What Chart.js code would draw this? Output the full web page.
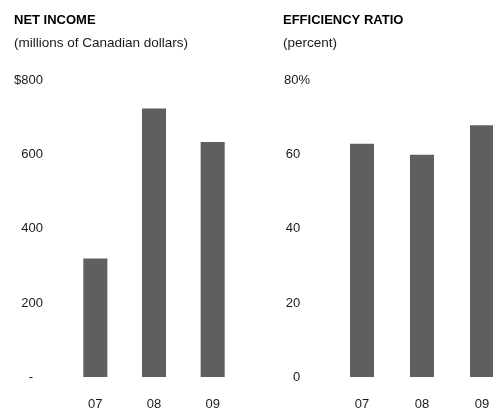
<!DOCTYPE html>
<html>
<head>
<meta charset="utf-8">
<script src="https://cdn.jsdelivr.net/npm/chart.js@4/dist/chart.umd.min.js"></script>
<style>
    html, body { margin: 0; padding: 0; background: #fff; overflow: hidden; }
    body { width: 493px; height: 410px; position: relative; }
    canvas { position: absolute; top: 0; }
    #income-chart { left: 0; }
    #ratio-chart { left: 250px; }
</style>
</head>
<body>
<canvas id="income-chart" width="250" height="413"></canvas>
<canvas id="ratio-chart" width="270" height="413"></canvas>
<script>
// Data
const years = ['07', '08', '09'];
const netIncome = [320, 725, 635];          // millions of Canadian dollars
const efficiencyRatio = [63, 60, 68];       // percent
const incomeTicks = { 0: '-\u2007\u2009', 800: '$800' };
const ratioTicks = { 80: '80%' };

const BAR_COLOR = '#5f5f5f';
const TEXT_COLOR = '#1a1a1a';

Chart.defaults.font.family = '"Liberation Sans", Arial, sans-serif';
Chart.defaults.font.size = 13;
Chart.defaults.color = TEXT_COLOR;

// Shared options for both small bar charts.
// afterFit pins the axis sizes so the plot area lands where the original has it.
function makeOptions(title, subtitle, yMax, step, tickLabel, padLeft, axisWidth, tickPad, barPct) {
    return {
        responsive: false,
        animation: false,
        layout: {
            padding: { left: padLeft, right: 8, top: 0, bottom: 0 }
        },
        plugins: {
            legend: { display: false },
            tooltip: { enabled: false },
            title: {
                display: true,
                text: title,
                align: 'start',
                color: '#000',
                font: { size: 13, weight: 'bold' },
                padding: { top: 13, bottom: 6 }
            },
            subtitle: {
                display: true,
                text: subtitle,
                align: 'start',
                color: TEXT_COLOR,
                font: { size: 13.5 },
                padding: { top: 1, bottom: 29 }
            }
        },
        datasets: {
            bar: {
                barPercentage: barPct,
                categoryPercentage: 1
            }
        },
        scales: {
            x: {
                grid: { display: false, drawTicks: false },
                border: { display: false },
                ticks: { padding: 20, font: { size: 13 } },
                afterFit: s => { s.height = 36; }
            },
            y: {
                min: 0,
                max: yMax,
                grid: { display: false, drawTicks: false },
                border: { display: false },
                ticks: {
                    stepSize: step,
                    padding: tickPad,
                    font: { size: 13 },
                    callback: tickLabel
                },
                afterFit: s => { s.width = axisWidth; }
            }
        }
    };
}

new Chart(document.getElementById('income-chart'), {
    type: 'bar',
    data: {
        labels: years,
        datasets: [{
            data: netIncome,
            backgroundColor: BAR_COLOR,
            borderWidth: 0
        }]
    },
    options: makeOptions(
        'NET INCOME',
        '(millions of Canadian dollars)',
        800, 200,
        v => incomeTicks[v] !== undefined ? incomeTicks[v] : String(v),
        14, 52, 23, 0.41
    )
});

new Chart(document.getElementById('ratio-chart'), {
    type: 'bar',
    data: {
        labels: years,
        datasets: [{
            data: efficiencyRatio,
            backgroundColor: BAR_COLOR,
            borderWidth: 0
        }]
    },
    options: makeOptions(
        'EFFICIENCY RATIO',
        '(percent)',
        80, 20,
        // pad plain labels so the numbers line up with "80" in "80%"
        v => ratioTicks[v] !== undefined ? ratioTicks[v] : v + '\u2007\u2009',
        33, 49, 22, 0.4
    )
});
</script>
</body>
</html>
